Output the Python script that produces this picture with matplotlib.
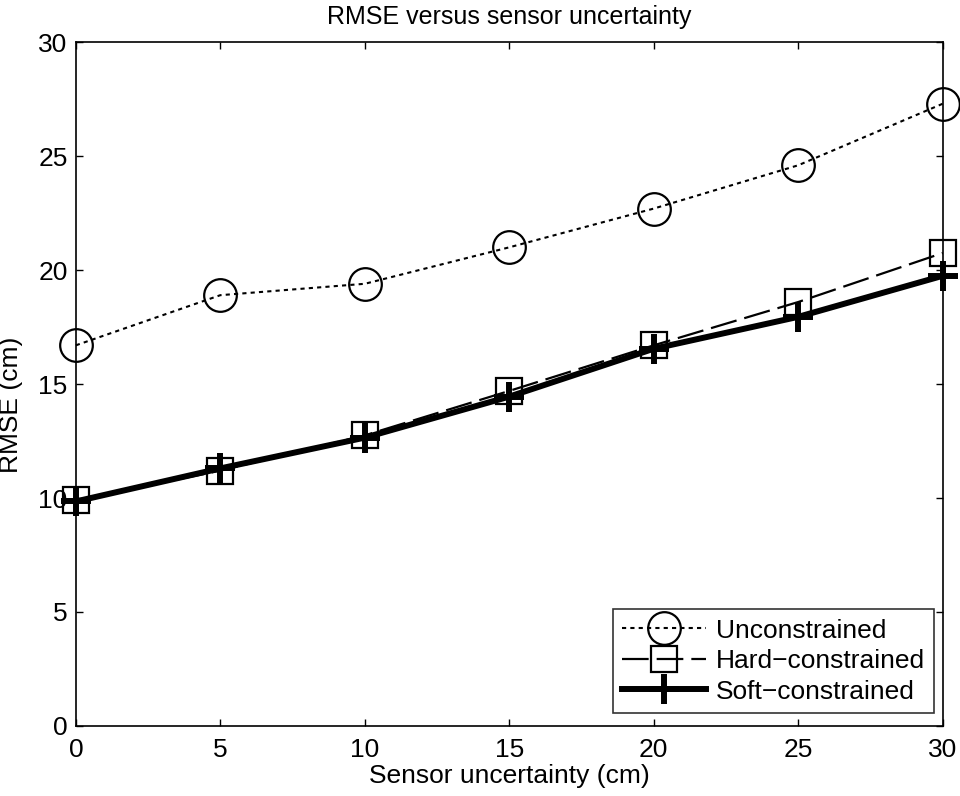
import matplotlib
matplotlib.use("Agg")
import matplotlib.pyplot as plt

plt.rcParams["font.family"] = ["Liberation Sans", "DejaVu Sans"]

sensor_unc = [0, 5, 10, 15, 20, 25, 30]
rmse_unconstrained = [16.7, 18.9, 19.4, 21.0, 22.7, 24.6, 27.3]
rmse_hard = [9.9, 11.2, 12.75, 14.7, 16.7, 18.6, 20.75]
rmse_soft = [9.85, 11.3, 12.65, 14.45, 16.55, 17.95, 19.75]

FS = 19

fig = plt.figure(figsize=(9.6, 7.96), dpi=100)
ax = fig.add_axes([0.079, 0.088, 0.903, 0.859])

ax.plot(sensor_unc, rmse_unconstrained, ls=(0, (2, 2)), lw=1.5, color="black",
        marker="o", ms=23.5, mfc="none", mec="black", mew=1.6,
        label="Unconstrained", clip_on=False, zorder=3)
ax.plot(sensor_unc, rmse_hard, ls=(0, (12, 3.6)), lw=1.6, color="black",
        marker="s", ms=18.5, mfc="none", mec="black", mew=1.6,
        label="Hard\u2212constrained", clip_on=False, zorder=3)
ax.plot(sensor_unc, rmse_soft, ls="-", lw=4.3, color="black",
        marker="+", ms=22, mec="black", mew=4.3,
        label="Soft\u2212constrained", clip_on=False, zorder=3)

ax.set_xlim(0, 30)
ax.set_ylim(0, 30)
ax.set_xticks(range(0, 31, 5))
ax.set_yticks(range(0, 31, 5))
ax.tick_params(direction="in", length=5, width=1, labelsize=FS,
               top=True, right=True)
ax.tick_params(axis="x", pad=9)
ax.tick_params(axis="y", pad=6)
for sp in ax.spines.values():
    sp.set_linewidth(1.2)

ax.set_xlabel("Sensor uncertainty (cm)", fontsize=FS, labelpad=1)
ax.set_ylabel("RMSE (cm)", fontsize=FS)
ax.yaxis.set_label_coords(-0.061, 0.47)
ax.set_title("RMSE versus sensor uncertainty", fontsize=18, pad=13)

leg = ax.legend(loc="lower right", fontsize=FS, frameon=True, fancybox=False,
                edgecolor="black", borderpad=0.35, handlelength=3.2,
                handletextpad=0.35, labelspacing=0.25, borderaxespad=0,
                bbox_to_anchor=(0.99, 0.019))
leg.get_frame().set_linewidth(1.2)

fig.savefig("out.png", dpi=100)
